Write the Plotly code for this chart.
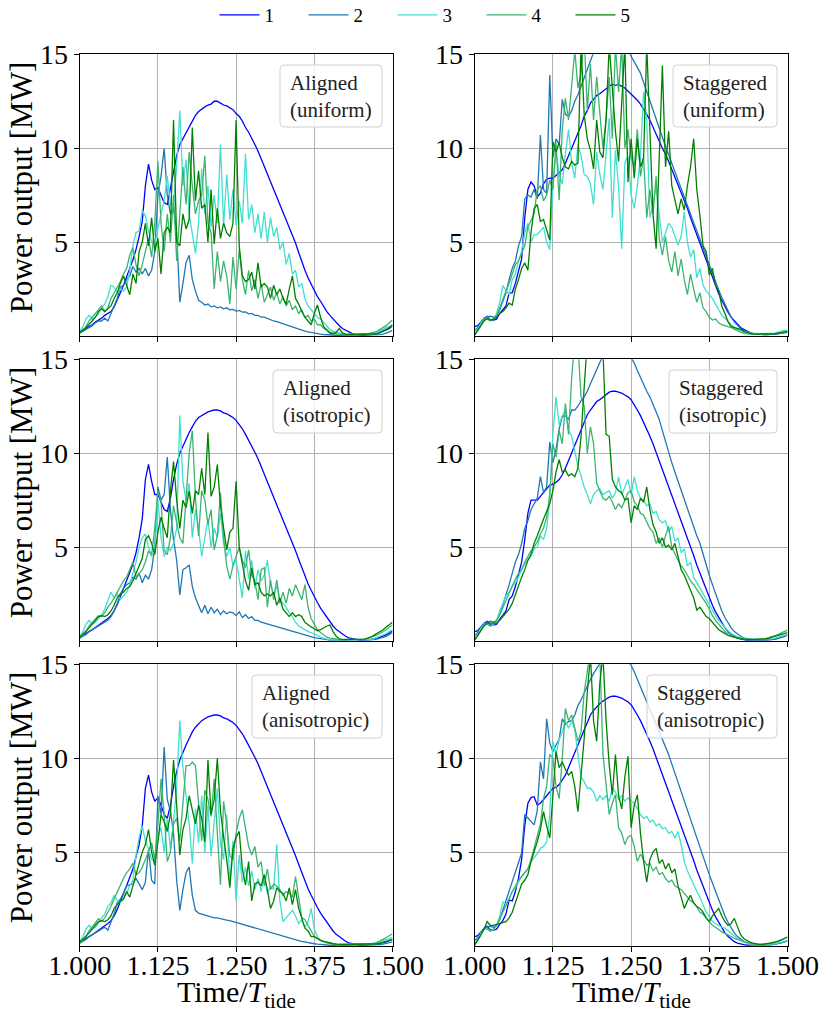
import numpy as np
import plotly.graph_objects as go
from plotly.subplots import make_subplots

# Sample times (units of tidal period), one every 0.005
t = np.round(1.0 + 0.005 * np.arange(101), 3)

# ---------------- Aligned (uniform) ----------------
al_uni_1 = [0.23,0.3,0.4,0.5,0.6,0.75,0.85,0.95,1.1,1.2,
            1.3,1.55,1.9,2.3,2.7,3.2,3.6,4.05,4.6,5.3,
            6.1,8.0,9.15,8.3,7.8,7.9,7.5,7.1,7.0,7.85,
            8.85,9.6,10.2,10.5,10.85,11.15,11.45,11.75,11.95,12.1,
            12.2,12.3,12.35,12.5,12.5,12.4,12.3,12.25,12.15,12.05,
            11.85,11.7,11.45,11.1,10.85,10.55,10.2,9.85,9.45,9.05,
            8.65,8.25,7.85,7.45,7.05,6.65,6.2,5.8,5.4,4.95,
            4.45,3.95,3.5,3.1,2.75,2.4,2.1,1.85,1.55,1.3,
            1.1,0.9,0.72,0.55,0.4,0.3,0.2,0.14,0.09,0.06,
            0.05,0.05,0.05,0.06,0.09,0.13,0.18,0.23,0.32,0.4,
            0.55]
al_uni_2 = [0.15,0.25,0.35,0.45,0.55,0.7,0.8,0.8,0.95,0.8,
            1.2,1.6,2.0,2.6,2.7,3.0,3.2,3.7,3.4,3.6,
            3.3,3.6,3.2,3.5,4.5,7.5,8.5,10.0,7.5,6.5,
            6.8,5.5,1.8,2.8,3.9,4.3,3.0,2.4,1.9,1.8,
            1.65,1.7,1.55,1.6,1.5,1.55,1.45,1.5,1.4,1.42,
            1.33,1.36,1.27,1.28,1.18,1.2,1.1,1.1,1.0,1.0,
            0.92,0.88,0.8,0.76,0.7,0.65,0.6,0.55,0.48,0.42,
            0.36,0.3,0.26,0.22,0.18,0.15,0.12,0.1,0.08,0.06,
            0.04,0.04,0.04,0.04,0.04,0.04,0.04,0.04,0.04,0.04,
            0.04,0.04,0.04,0.04,0.04,0.05,0.07,0.1,0.15,0.22,
            0.3]
al_uni_3 = [0.25,0.5,0.9,1.1,0.9,1.0,1.2,1.5,1.7,2.1,
            2.7,2.6,2.3,2.5,2.4,2.6,3.5,4.8,5.5,5.6,
            6.7,6.4,5.6,5.0,4.9,5.8,6.5,7.2,8.5,7.0,
            7.0,9.0,12.0,8.0,9.4,6.5,5.5,4.4,6.0,8.9,
            6.5,8.0,5.8,7.5,6.0,10.2,5.9,8.6,6.2,7.8,
            5.9,7.2,6.0,9.7,6.2,7.0,5.5,6.5,5.2,6.6,
            5.0,6.3,5.3,5.8,4.6,5.0,3.8,4.4,3.3,3.5,
            2.6,2.8,2.0,1.6,1.4,1.2,1.0,0.9,0.7,0.5,
            0.35,0.25,0.2,0.15,0.12,0.1,0.08,0.08,0.08,0.08,
            0.08,0.08,0.08,0.1,0.12,0.18,0.25,0.35,0.45,0.5,
            0.55]
al_uni_4 = [0.15,0.3,0.5,0.8,1.0,1.2,1.4,1.6,1.3,1.5,
            2.0,2.3,2.6,2.9,3.3,3.6,4.3,4.7,3.8,3.2,
            3.8,4.5,5.2,4.2,6.0,9.3,6.0,4.5,6.5,5.0,
            7.5,4.0,6.5,9.0,7.0,9.8,8.0,6.5,7.2,7.5,
            9.6,6.0,5.5,2.5,4.5,2.9,4.0,3.2,1.7,4.2,
            2.5,4.6,3.0,2.2,3.5,2.4,3.0,2.0,2.8,1.8,
            2.2,2.6,1.9,2.3,1.7,2.1,1.6,1.9,1.4,1.6,
            1.2,1.4,1.0,1.1,0.8,0.9,0.6,0.6,0.4,0.35,
            0.2,0.15,0.12,0.1,0.08,0.08,0.08,0.08,0.08,0.08,
            0.08,0.1,0.12,0.15,0.2,0.25,0.35,0.45,0.55,0.7,
            0.85]
al_uni_5 = [0.2,0.3,0.45,0.6,0.8,1.0,1.3,1.45,1.3,1.45,
            1.6,2.0,2.3,2.8,3.2,2.7,2.2,3.3,2.8,4.5,
            5.0,6.0,4.8,6.3,4.5,5.2,3.3,5.5,5.8,5.5,
            11.5,5.0,4.8,6.5,5.7,6.2,11.1,7.2,8.8,6.8,
            7.0,5.0,7.8,4.9,6.8,5.2,6.0,5.5,5.3,6.0,
            11.5,4.8,3.2,2.9,3.0,3.4,2.5,3.9,2.6,2.8,
            2.6,2.0,2.7,2.2,2.5,2.0,1.7,2.5,3.2,2.0,
            1.7,1.3,1.0,0.8,0.6,1.2,1.65,1.0,0.5,0.3,
            0.15,0.1,0.2,0.4,0.15,0.1,0.08,0.08,0.08,0.08,
            0.08,0.08,0.08,0.08,0.1,0.12,0.18,0.25,0.35,0.45,
            0.6]

# ---------------- Aligned (isotropic) ----------------
al_iso_1 = [0.22,0.3,0.4,0.5,0.6,0.72,0.82,0.92,1.05,1.2,
            1.35,1.6,1.95,2.35,2.75,3.2,3.65,4.1,4.7,5.5,
            6.5,8.6,9.4,8.5,7.8,7.8,7.4,7.0,6.9,7.6,
            8.6,9.4,10.0,10.4,10.75,11.1,11.4,11.7,11.9,12.0,
            12.1,12.2,12.25,12.3,12.3,12.25,12.15,12.1,12.0,11.9,
            11.75,11.55,11.3,11.0,10.7,10.4,10.05,9.7,9.3,8.9,
            8.5,8.1,7.7,7.3,6.9,6.5,6.1,5.65,5.25,4.8,
            4.35,3.9,3.45,3.05,2.7,2.35,2.05,1.75,1.5,1.25,
            1.0,0.8,0.62,0.48,0.35,0.25,0.17,0.12,0.08,0.06,
            0.05,0.05,0.06,0.08,0.11,0.15,0.2,0.26,0.34,0.42,
            0.55]
al_iso_2 = [0.15,0.25,0.35,0.5,0.6,0.7,0.8,0.9,1.0,1.1,
            1.3,1.6,2.0,2.5,2.8,3.0,3.1,3.4,3.3,3.6,
            3.1,3.5,3.3,3.8,5.0,8.2,7.5,7.8,9.8,7.0,
            5.4,4.3,2.45,3.8,3.9,4.05,2.9,2.3,1.9,1.5,
            1.9,1.45,1.8,1.5,1.7,1.4,1.6,1.45,1.55,1.5,
            1.35,1.55,1.25,1.4,1.2,1.3,1.1,1.1,1.0,0.95,
            0.9,0.85,0.8,0.75,0.7,0.65,0.6,0.55,0.5,0.45,
            0.4,0.35,0.3,0.26,0.22,0.18,0.15,0.12,0.1,0.08,
            0.05,0.05,0.05,0.05,0.05,0.05,0.05,0.05,0.05,0.05,
            0.05,0.05,0.05,0.05,0.07,0.1,0.15,0.2,0.25,0.35,
            0.45]
al_iso_3 = [0.25,0.5,0.9,1.1,0.9,1.0,1.2,1.4,1.7,2.2,
            2.6,2.3,2.5,2.2,2.4,2.6,3.0,3.6,4.2,5.0,
            5.5,5.7,5.0,4.5,4.8,7.5,5.5,4.5,5.0,4.8,
            5.2,6.0,12.0,8.5,7.5,8.4,5.5,7.0,6.0,4.5,
            5.5,6.5,5.0,6.0,5.5,6.8,5.2,4.5,5.0,4.0,
            4.3,3.2,2.3,4.8,3.3,4.3,2.8,3.8,3.2,3.5,
            4.3,3.0,2.5,2.9,2.2,2.0,1.8,1.5,1.3,1.0,
            0.8,0.7,0.6,0.5,0.45,0.35,0.3,0.2,0.15,0.1,
            0.06,0.06,0.06,0.06,0.06,0.06,0.06,0.06,0.06,0.06,
            0.06,0.06,0.06,0.08,0.12,0.18,0.25,0.3,0.4,0.5,
            0.6]
al_iso_4 = [0.15,0.3,0.5,0.8,1.0,1.2,1.35,1.3,1.5,1.8,
            2.0,2.3,2.6,2.9,3.2,3.4,3.8,4.2,3.4,3.6,
            3.8,4.2,4.8,4.6,6.0,8.0,7.4,4.8,4.6,5.5,
            7.2,6.3,5.5,5.2,7.8,10.0,11.2,7.6,5.6,8.0,
            7.5,6.2,7.0,4.85,5.6,7.9,5.5,4.0,3.3,4.0,
            4.5,5.0,4.3,3.9,4.85,3.5,3.2,2.2,3.8,3.9,
            1.8,3.25,2.2,3.25,2.0,2.6,2.0,2.8,2.4,3.0,
            2.6,2.2,3.0,1.8,1.2,0.9,0.6,0.45,0.3,0.2,
            0.15,0.12,0.08,0.08,0.08,0.08,0.08,0.08,0.08,0.08,
            0.08,0.1,0.13,0.18,0.25,0.32,0.4,0.5,0.6,0.75,
            0.85]
al_iso_5 = [0.2,0.35,0.5,0.7,0.9,1.1,1.3,1.35,1.3,1.4,
            1.6,1.9,2.3,2.5,2.6,2.8,2.9,3.2,3.6,4.1,
            4.4,5.4,5.6,5.2,4.6,5.8,6.6,6.0,5.5,8.0,
            9.55,7.5,6.0,7.5,7.1,8.0,6.8,8.0,7.8,9.2,
            7.8,11.1,7.7,8.2,9.4,7.2,5.9,4.85,5.8,6.0,
            8.5,5.0,4.1,3.2,2.7,3.9,3.0,3.1,2.6,2.4,
            2.5,2.4,2.6,1.9,2.3,1.7,1.5,1.3,1.5,1.3,
            1.4,1.3,1.0,0.85,0.75,0.65,0.55,0.6,0.7,0.8,
            0.85,0.5,0.25,0.12,0.07,0.07,0.07,0.07,0.07,0.07,
            0.07,0.1,0.15,0.2,0.3,0.4,0.5,0.6,0.75,0.9,
            1.0]

# ---------------- Aligned (anisotropic) ----------------
al_ani_1 = [0.22,0.3,0.4,0.5,0.6,0.72,0.82,0.92,1.05,1.2,
            1.35,1.6,1.95,2.35,2.75,3.2,3.65,4.1,4.7,5.4,
            6.4,8.4,9.1,8.2,7.7,7.9,7.5,7.0,6.8,7.5,
            8.5,9.3,9.9,10.35,10.7,11.05,11.4,11.65,11.85,12.0,
            12.1,12.2,12.25,12.3,12.3,12.25,12.15,12.1,12.0,11.9,
            11.75,11.55,11.3,11.0,10.7,10.4,10.05,9.7,9.3,8.9,
            8.5,8.1,7.7,7.3,6.9,6.5,6.1,5.65,5.25,4.8,
            4.35,3.9,3.45,3.05,2.7,2.35,2.05,1.75,1.5,1.25,
            1.0,0.8,0.62,0.48,0.35,0.25,0.17,0.12,0.08,0.06,
            0.05,0.05,0.05,0.06,0.08,0.1,0.13,0.17,0.22,0.28,
            0.35]
al_ani_2 = [0.15,0.25,0.35,0.5,0.6,0.7,0.8,0.9,1.0,0.85,
            1.3,1.7,2.3,2.5,2.8,3.2,3.25,3.3,3.6,3.3,
            3.0,3.4,5.15,3.5,3.3,8.0,7.0,10.6,7.8,7.2,
            6.0,3.5,1.9,3.0,3.9,4.2,2.7,1.9,1.75,1.7,
            1.65,1.6,1.55,1.5,1.5,1.45,1.42,1.38,1.35,1.3,
            1.25,1.2,1.15,1.1,1.05,1.0,0.95,0.9,0.85,0.8,
            0.78,0.73,0.68,0.63,0.58,0.53,0.48,0.43,0.38,0.33,
            0.29,0.25,0.21,0.18,0.15,0.12,0.1,0.08,0.06,0.05,
            0.04,0.04,0.04,0.04,0.04,0.04,0.04,0.04,0.04,0.04,
            0.04,0.04,0.04,0.04,0.05,0.06,0.08,0.1,0.13,0.17,
            0.22]
al_ani_3 = [0.25,0.5,0.9,1.1,0.9,1.0,1.2,1.5,1.7,2.1,
            2.3,2.7,2.4,2.3,2.5,2.8,3.2,3.5,4.8,5.8,
            6.4,5.6,5.2,4.6,4.5,5.8,6.3,5.0,6.8,5.2,
            6.6,8.5,12.0,9.5,8.0,6.5,4.4,7.3,5.5,8.0,
            5.0,7.5,4.8,6.5,8.4,5.5,4.6,7.0,3.3,5.6,
            2.4,4.85,3.4,4.2,3.2,4.0,3.0,3.6,2.9,3.8,
            2.8,3.2,3.0,5.4,2.4,1.3,1.5,1.7,1.9,1.6,
            1.2,1.4,1.0,1.3,2.0,0.9,0.5,0.3,0.2,0.15,
            0.12,0.1,0.08,0.08,0.08,0.08,0.08,0.08,0.08,0.08,
            0.08,0.08,0.1,0.12,0.15,0.2,0.25,0.3,0.35,0.4,
            0.45]
al_ani_4 = [0.15,0.3,0.5,0.8,1.0,1.2,1.45,1.3,1.5,1.8,
            2.1,2.5,2.9,3.3,3.6,3.9,4.1,4.4,3.8,3.9,
            4.2,4.6,5.0,5.5,4.6,6.5,8.9,7.0,4.5,5.0,
            6.5,6.8,5.6,7.5,9.6,9.6,9.8,9.6,7.5,5.6,
            8.3,7.8,6.9,8.9,6.0,3.25,7.7,6.5,4.8,4.6,
            6.0,6.8,7.25,6.3,5.3,4.85,5.3,4.2,4.5,3.2,
            4.1,3.0,3.3,3.2,3.0,2.7,2.9,2.8,2.6,3.7,
            2.5,1.5,1.4,1.1,0.8,0.5,0.4,0.3,0.25,0.2,
            0.15,0.12,0.1,0.08,0.08,0.08,0.08,0.08,0.08,0.08,
            0.08,0.08,0.08,0.1,0.12,0.18,0.25,0.35,0.45,0.55,
            0.65]
al_ani_5 = [0.2,0.35,0.5,0.7,0.9,1.1,1.3,1.35,1.3,1.4,
            1.6,2.0,2.2,2.4,2.5,2.9,2.6,3.2,3.8,4.5,
            5.0,5.4,6.2,5.0,4.3,5.5,7.0,6.6,6.1,7.0,
            9.9,7.5,4.85,6.2,6.8,8.0,7.2,6.5,7.5,6.8,
            5.55,9.9,7.0,7.8,10.0,7.2,5.8,4.6,3.1,5.2,
            5.8,6.1,4.1,3.25,4.5,2.4,3.3,3.4,3.2,3.8,
            3.0,2.0,2.4,3.1,2.9,2.8,2.4,3.1,2.2,3.0,
            2.0,1.5,0.95,0.8,0.5,0.5,0.4,0.3,0.25,0.2,
            0.15,0.12,0.1,0.08,0.08,0.08,0.08,0.08,0.08,0.08,
            0.08,0.08,0.08,0.08,0.1,0.12,0.15,0.2,0.25,0.3,
            0.35]

# ---------------- Staggered (uniform) ----------------
st_uni_1 = [0.5,0.55,0.75,0.95,1.05,0.85,0.85,0.9,1.2,1.4,
            1.6,2.3,2.3,2.8,3.4,4.1,6.3,7.8,8.2,8.0,
            7.4,7.6,8.1,8.35,8.4,8.4,8.55,8.7,8.85,9.2,
            9.6,9.95,10.35,10.8,11.2,11.7,12.0,12.4,12.6,12.8,
            12.9,13.05,13.2,13.3,13.4,13.35,13.4,13.3,13.2,13.05,
            12.9,12.75,12.55,12.35,12.1,11.8,11.5,11.1,10.75,10.35,
            10.0,9.7,9.3,8.9,8.5,8.1,7.7,7.25,6.8,6.3,
            5.85,5.4,4.9,4.45,4.0,3.5,3.1,2.7,2.25,1.9,
            1.55,1.25,1.0,0.8,0.6,0.45,0.35,0.25,0.18,0.13,
            0.1,0.08,0.08,0.08,0.08,0.08,0.1,0.12,0.15,0.18,
            0.2]
st_uni_2 = [0.3,0.45,0.7,0.9,1.0,1.05,1.0,1.1,1.4,1.8,
            2.3,3.0,3.6,4.0,4.8,5.3,7.3,7.5,7.4,7.8,
            7.3,10.7,7.8,7.6,13.9,9.5,10.5,10.2,12.6,11.8,
            11.7,12.0,12.5,12.85,13.3,13.8,14.3,14.7,15.1,15.4,
            15.7,15.9,16.1,16.2,16.2,16.1,15.9,15.7,15.5,15.2,
            14.9,14.6,14.3,14.0,13.5,13.0,12.5,12.05,11.6,11.1,
            10.6,10.1,9.65,9.2,8.7,8.3,7.85,7.4,7.0,6.55,
            6.1,5.65,5.2,4.7,4.2,3.75,3.3,2.85,2.45,2.05,
            1.7,1.35,1.0,0.75,0.55,0.4,0.3,0.22,0.15,0.12,
            0.1,0.08,0.08,0.08,0.08,0.1,0.12,0.15,0.18,0.2,
            0.22]
st_uni_3 = [0.15,0.35,0.7,0.9,1.0,0.85,0.9,1.2,1.8,2.7,
            2.4,2.2,3.0,3.3,4.0,4.5,5.5,6.0,5.0,5.4,
            5.4,5.6,5.8,5.0,4.6,8.0,9.8,8.6,8.1,9.7,
            11.0,9.2,8.4,10.2,9.6,8.6,8.5,8.1,7.0,9.8,
            8.6,7.8,9.5,11.6,6.3,9.9,7.9,4.65,9.2,9.6,
            7.5,6.8,8.0,9.6,13.0,11.5,6.3,7.0,8.0,6.6,
            5.0,5.5,6.0,5.8,5.3,4.85,5.3,6.6,5.0,4.2,
            4.6,3.1,3.6,2.7,2.4,2.2,2.0,1.7,1.4,1.1,
            0.95,0.75,0.6,0.45,0.35,0.3,0.25,0.2,0.17,0.15,
            0.12,0.12,0.12,0.12,0.12,0.12,0.15,0.2,0.25,0.3,
            0.3]
st_uni_4 = [0.1,0.3,0.6,0.95,0.9,0.8,0.9,1.1,1.5,2.0,
            2.4,2.8,3.3,3.8,4.0,4.4,4.8,5.8,6.2,6.5,
            7.8,8.0,7.2,7.5,8.3,7.8,10.3,7.25,11.0,12.65,
            11.5,13.5,15.2,13.2,14.0,16.0,12.0,14.5,11.5,13.8,
            12.0,10.0,11.6,13.8,10.5,15.5,13.0,15.5,10.0,11.0,
            9.5,9.0,11.0,8.5,9.5,6.3,7.8,6.5,8.5,5.2,
            4.3,5.3,4.0,3.4,4.5,3.2,4.1,3.0,2.2,3.3,
            2.5,1.8,2.3,1.5,1.3,1.0,0.85,0.9,0.7,0.6,
            0.55,0.5,0.45,0.35,0.3,0.2,0.15,0.12,0.1,0.1,
            0.1,0.1,0.1,0.1,0.1,0.1,0.1,0.12,0.15,0.2,
            0.25]
st_uni_5 = [0.05,0.3,0.6,0.8,0.95,0.85,0.9,1.0,1.2,1.3,
            1.5,1.75,1.65,2.5,3.0,3.6,3.9,3.5,5.5,6.8,
            7.0,6.1,6.2,5.6,5.1,10.35,9.8,10.3,9.5,9.0,
            8.9,9.3,9.1,9.2,15.5,11.8,10.5,9.9,8.9,11.5,
            9.8,9.5,11.5,15.5,13.2,10.9,9.3,12.0,15.5,8.2,
            10.5,8.4,10.5,9.0,9.5,15.5,10.8,6.5,4.65,9.5,
            14.4,9.0,10.9,8.0,7.3,6.5,7.3,6.7,8.0,9.0,
            10.5,7.8,6.4,4.8,4.5,3.25,3.6,2.7,2.4,1.6,
            1.2,0.75,0.5,0.45,0.4,0.35,0.25,0.2,0.15,0.1,
            0.1,0.1,0.1,0.1,0.1,0.1,0.12,0.15,0.18,0.2,
            0.25]

# ---------------- Staggered (isotropic) ----------------
st_iso_1 = [0.5,0.55,0.75,0.95,1.05,0.85,0.85,0.9,1.15,1.35,
            1.6,2.2,2.4,2.9,3.5,4.2,5.4,6.8,7.5,7.5,
            7.5,7.7,7.9,8.1,8.3,8.35,8.45,8.6,8.85,9.2,
            9.6,10.0,10.4,10.9,11.3,11.7,12.05,12.3,12.55,12.75,
            12.85,13.0,13.15,13.25,13.3,13.3,13.25,13.2,13.1,13.0,
            12.85,12.6,12.3,12.0,11.65,11.3,10.9,10.5,10.05,9.6,
            9.15,8.7,8.25,7.8,7.35,6.9,6.45,6.0,5.5,5.05,
            4.55,4.05,3.6,3.15,2.7,2.3,1.9,1.55,1.25,0.95,
            0.7,0.5,0.35,0.23,0.15,0.1,0.07,0.05,0.05,0.05,
            0.05,0.05,0.05,0.05,0.06,0.08,0.1,0.14,0.19,0.25,
            0.32]
st_iso_2 = [0.3,0.45,0.7,0.9,1.0,1.05,1.0,1.1,1.4,1.9,
            2.5,3.0,3.6,4.2,4.6,5.2,6.0,6.4,7.0,7.3,
            7.6,8.75,7.9,8.2,10.6,9.5,10.2,11.3,11.95,12.0,
            11.8,12.3,12.3,12.5,12.8,13.0,13.3,13.7,14.1,14.5,
            14.9,15.2,15.5,15.7,15.8,15.8,15.7,15.6,15.4,15.2,
            15.1,14.8,14.4,14.0,13.6,13.3,13.0,12.6,12.2,11.8,
            11.2,10.6,10.0,9.5,9.0,8.5,8.0,7.5,7.0,6.6,
            6.1,5.6,5.2,4.6,4.0,3.5,3.0,2.5,2.0,1.6,
            1.25,0.95,0.7,0.5,0.35,0.25,0.17,0.12,0.1,0.08,
            0.06,0.05,0.05,0.05,0.06,0.08,0.1,0.14,0.19,0.25,
            0.32]
st_iso_3 = [0.15,0.35,0.7,0.9,0.95,0.8,0.85,1.1,1.6,2.0,
            2.4,2.6,2.9,3.1,3.4,3.8,4.1,4.3,4.5,4.9,
            5.0,5.6,5.4,6.0,7.5,11.0,13.0,11.5,12.0,12.3,
            11.2,10.9,10.0,9.3,8.8,8.2,7.8,7.3,7.8,8.0,
            8.1,7.8,7.9,8.0,7.6,7.9,8.75,7.8,8.2,8.6,
            7.8,8.75,8.0,7.6,7.5,7.2,7.3,6.8,6.9,6.45,
            6.3,6.4,5.8,6.1,5.3,5.5,4.7,4.9,4.0,4.2,
            3.4,3.1,2.8,2.5,2.2,1.9,1.6,1.35,1.1,0.9,
            0.7,0.55,0.4,0.3,0.22,0.17,0.13,0.1,0.08,0.08,
            0.08,0.08,0.08,0.08,0.1,0.12,0.15,0.2,0.25,0.3,
            0.35]
st_iso_4 = [0.1,0.3,0.6,0.95,0.9,0.8,0.9,1.1,1.4,1.8,
            2.1,2.5,2.9,3.3,3.6,3.8,4.2,4.5,4.8,5.0,
            5.3,5.7,6.0,6.6,7.8,10.5,9.8,11.2,10.5,12.65,
            11.0,14.0,16.0,15.8,13.0,12.5,10.0,11.4,10.5,8.4,
            8.0,7.6,7.5,7.7,7.4,7.0,7.3,7.1,7.5,7.9,
            8.0,7.4,7.2,6.8,6.7,6.3,6.0,5.8,5.2,5.5,
            5.0,5.6,6.1,5.0,4.6,4.3,4.0,3.8,3.5,3.2,
            3.0,2.75,2.55,2.3,2.0,1.7,1.35,1.1,0.9,0.7,
            0.5,0.4,0.3,0.22,0.17,0.13,0.1,0.08,0.08,0.08,
            0.08,0.08,0.1,0.13,0.17,0.22,0.28,0.35,0.42,0.5,
            0.58]
st_iso_5 = [0.05,0.3,0.6,0.8,0.95,0.95,0.95,0.95,1.1,1.3,
            1.5,1.7,2.0,2.5,3.0,3.4,3.8,4.3,4.6,5.2,
            5.6,6.1,6.5,6.9,7.3,8.0,9.0,9.65,9.0,9.1,
            8.8,8.9,8.75,9.2,10.9,13.5,16.0,16.5,16.5,16.0,
            16.5,15.5,11.0,10.9,8.6,8.2,8.0,7.9,7.5,7.6,
            6.3,7.2,7.0,7.6,7.4,8.2,7.0,6.2,5.8,5.2,
            5.5,5.0,5.1,4.85,5.2,4.5,3.8,3.5,3.1,2.8,
            2.3,1.65,1.8,1.55,1.3,1.2,1.0,0.76,0.6,0.5,
            0.4,0.3,0.25,0.2,0.15,0.12,0.1,0.08,0.08,0.08,
            0.08,0.08,0.1,0.12,0.15,0.2,0.25,0.3,0.35,0.4,
            0.45]

# ---------------- Staggered (anisotropic) ----------------
st_ani_1 = [0.5,0.55,0.75,0.95,1.05,0.85,0.85,0.9,1.15,1.35,
            1.7,2.45,2.4,2.9,3.6,4.6,6.4,7.6,7.9,7.95,
            7.5,7.6,7.8,8.0,8.25,8.4,8.45,8.6,8.85,9.1,
            9.5,9.9,10.35,10.8,11.2,11.6,12.0,12.3,12.55,12.75,
            12.9,13.05,13.15,13.25,13.3,13.3,13.25,13.2,13.1,13.0,
            12.85,12.6,12.3,12.0,11.65,11.3,10.9,10.5,10.05,9.6,
            9.15,8.7,8.25,7.8,7.35,6.9,6.45,6.0,5.5,5.05,
            4.55,4.05,3.6,3.15,2.7,2.3,1.9,1.55,1.25,0.95,
            0.7,0.5,0.35,0.23,0.15,0.1,0.07,0.05,0.05,0.05,
            0.05,0.05,0.05,0.05,0.06,0.08,0.1,0.13,0.17,0.22,
            0.28]
st_ani_2 = [0.3,0.45,0.7,0.9,1.0,1.05,1.0,1.1,1.4,1.9,
            2.4,3.0,3.5,4.0,4.4,4.95,7.0,6.8,6.6,6.45,
            7.2,9.8,8.9,12.1,10.8,10.35,10.7,11.0,12.1,11.8,
            11.95,12.0,12.3,12.8,13.1,13.5,13.9,14.2,14.5,14.8,
            15.1,15.4,15.6,15.8,15.9,15.9,15.8,15.6,15.4,15.2,
            14.95,14.6,14.2,13.8,13.4,13.0,12.6,12.2,11.8,11.5,
            11.1,10.7,10.2,9.7,9.2,8.7,8.2,7.7,7.2,6.7,
            6.3,5.8,5.3,4.8,4.3,3.8,3.35,2.9,2.45,2.0,
            1.6,1.25,0.95,0.7,0.5,0.35,0.25,0.17,0.12,0.09,
            0.07,0.06,0.05,0.05,0.06,0.08,0.1,0.13,0.17,0.22,
            0.28]
st_ani_3 = [0.15,0.35,0.7,0.9,0.95,0.8,0.85,1.1,1.6,2.35,
            2.2,2.6,2.9,3.1,3.4,3.7,3.9,4.1,4.5,4.7,
            4.9,5.2,5.3,5.55,7.0,10.9,10.2,11.0,11.4,12.0,
            11.6,12.0,11.5,10.2,9.0,8.75,8.4,8.4,8.2,7.7,
            8.0,7.8,8.0,7.7,8.4,8.2,7.8,8.0,7.7,7.9,
            7.7,7.6,7.3,7.0,6.8,6.9,6.6,6.7,6.4,6.5,
            6.25,6.3,6.0,6.1,5.75,6.1,5.4,4.5,4.0,3.6,
            3.25,2.9,2.6,2.2,1.8,1.55,1.3,1.2,1.1,1.0,
            0.95,0.8,0.65,0.5,0.4,0.3,0.2,0.15,0.1,0.08,
            0.06,0.06,0.06,0.07,0.08,0.1,0.12,0.15,0.2,0.25,
            0.3]
st_ani_4 = [0.1,0.3,0.6,0.95,0.9,0.8,0.9,1.1,1.45,1.8,
            2.1,2.5,2.9,3.2,3.5,3.7,3.9,4.1,4.6,5.2,
            5.8,6.5,7.85,8.5,10.2,10.0,8.5,7.85,10.0,12.65,
            12.0,12.3,11.6,10.9,11.4,13.5,14.6,16.0,16.5,16.0,
            15.5,10.2,8.6,7.0,7.6,8.05,6.3,6.0,5.4,5.8,
            5.9,5.3,4.5,4.9,4.6,4.3,4.4,4.0,4.2,3.8,
            3.9,3.6,3.4,3.5,3.2,3.1,3.0,2.8,2.6,2.4,
            2.3,2.1,1.8,1.7,1.5,1.3,1.1,1.0,0.85,0.75,
            0.67,0.6,0.5,0.4,0.35,0.3,0.22,0.16,0.12,0.1,
            0.08,0.08,0.08,0.1,0.12,0.15,0.2,0.25,0.32,0.4,
            0.48]
st_ani_5 = [0.05,0.3,0.6,0.9,1.3,1.1,1.1,1.15,1.2,1.25,
            1.3,1.5,1.8,2.3,2.8,3.3,3.5,3.8,4.5,5.0,
            5.55,6.2,7.15,6.4,5.75,8.0,10.35,9.5,9.8,9.4,
            9.1,9.3,8.5,7.15,9.0,11.05,13.5,15.5,12.0,10.9,
            14.0,15.5,12.0,9.65,8.05,10.2,8.0,7.3,9.0,10.1,
            6.3,7.5,8.05,6.0,4.5,3.4,4.6,5.0,5.2,4.4,
            4.6,4.1,4.4,3.9,4.1,3.2,2.6,2.0,2.4,2.7,
            2.3,2.1,2.0,1.8,1.5,1.3,1.6,1.8,2.0,1.6,
            1.3,1.1,1.2,1.47,1.0,0.6,0.4,0.3,0.2,0.15,
            0.1,0.08,0.08,0.1,0.12,0.15,0.2,0.25,0.32,0.4,
            0.48]

series_names = ["1", "2", "3", "4", "5"]
colors = ["#0000ff", "#1f77b4", "#40e0d0", "#3cb371", "#008000"]

# (row, col, first label line, second label line, series)
panels = [
    (1, 1, "Aligned", "(uniform)", [al_uni_1, al_uni_2, al_uni_3, al_uni_4, al_uni_5]),
    (1, 2, "Staggered", "(uniform)", [st_uni_1, st_uni_2, st_uni_3, st_uni_4, st_uni_5]),
    (2, 1, "Aligned", "(isotropic)", [al_iso_1, al_iso_2, al_iso_3, al_iso_4, al_iso_5]),
    (2, 2, "Staggered", "(isotropic)", [st_iso_1, st_iso_2, st_iso_3, st_iso_4, st_iso_5]),
    (3, 1, "Aligned", "(anisotropic)", [al_ani_1, al_ani_2, al_ani_3, al_ani_4, al_ani_5]),
    (3, 2, "Staggered", "(anisotropic)", [st_ani_1, st_ani_2, st_ani_3, st_ani_4, st_ani_5]),
]
for p in panels:
    for s in p[4]:
        assert len(s) == len(t), (p[2], p[3], len(s))

W, H = 820, 1016
FONT = "Liberation Serif"
TICK_SIZE = 28
TITLE_SIZE = 30

fig = make_subplots(rows=3, cols=2)

for k, (r, c, l1, l2, series) in enumerate(panels):
    for j, vals in enumerate(series):
        fig.add_trace(
            go.Scatter(x=t, y=vals, mode="lines", name=series_names[j],
                       line=dict(color=colors[j], width=1.3),
                       showlegend=(k == 0), legendgroup=series_names[j]),
            row=r, col=c)

# panel frames in pixels: left, right (x) / top, bottom (y)
col_px = {1: (79.7, 392.5), 2: (474.7, 787.5)}
row_px = {1: (54.3, 336.0), 2: (359.3, 641.0), 3: (664.3, 946.0)}

for k, (r, c, l1, l2, series) in enumerate(panels):
    ax = k + 1
    xs = "xaxis" if ax == 1 else f"xaxis{ax}"
    ys = "yaxis" if ax == 1 else f"yaxis{ax}"
    x0, x1 = col_px[c]
    y0, y1 = row_px[r]
    fig.layout[xs].update(
        domain=[x0 / W, x1 / W], range=[1.0, 1.5], automargin=False,
        tickvals=[1.0, 1.125, 1.25, 1.375, 1.5],
        ticktext=["1.000", "1.125", "1.250", "1.375", "1.500"],
        showticklabels=(r == 3), ticklabelstandoff=-11,
        ticks="outside", ticklen=5, tickwidth=1, tickcolor="black",
        showline=True, linecolor="black", linewidth=1.2, mirror=True,
        showgrid=True, gridcolor="#b0b0b0", gridwidth=1, zeroline=False,
        tickfont=dict(family=FONT, size=TICK_SIZE, color="black"),
    )
    fig.layout[ys].update(
        domain=[1 - y1 / H, 1 - y0 / H], range=[0, 15], automargin=False,
        tickvals=[5, 10, 15],
        ticks="outside", ticklen=5, tickwidth=1, tickcolor="black",
        showline=True, linecolor="black", linewidth=1.2, mirror=True,
        showgrid=True, gridcolor="#b0b0b0", gridwidth=1, zeroline=False,
        tickfont=dict(family=FONT, size=TICK_SIZE, color="black"),
    )
    # axis titles
    if c == 1:
        fig.add_annotation(xref="paper", yref="paper", x=21 / W,
                           y=1 - ((y0 + y1) / 2 - 7) / H,
                           text="Power output [MW]", textangle=-90, showarrow=False,
                           xanchor="center", yanchor="middle",
                           font=dict(family=FONT, size=31, color="black"))
    if r == 3:
        fig.add_annotation(xref="paper", yref="paper", x=(x0 + x1) / 2 / W,
                           y=1 - 1015 / H,
                           text="Time/<i>T</i><sub>tide</sub>", showarrow=False,
                           xanchor="center", yanchor="bottom",
                           font=dict(family=FONT, size=TITLE_SIZE, color="black"))

# label boxes (pixel rectangles) in the upper right of each panel
boxes = [(280, 65, 382, 127), (673, 65, 777, 127),
         (273, 370, 382, 433), (669, 370, 777, 433),
         (252, 675, 382, 738), (647, 675, 777, 738)]


def rounded_rect(bx0, by0, bx1, by1, rad=4):
    def px(x):
        return x / W

    def py(y):
        return 1 - y / H
    rx, ry = rad / W, rad / H
    a, b, c_, d = px(bx0), px(bx1), py(by0), py(by1)
    return (f"M {a+rx},{c_} L {b-rx},{c_} Q {b},{c_} {b},{c_-ry} "
            f"L {b},{d+ry} Q {b},{d} {b-rx},{d} L {a+rx},{d} "
            f"Q {a},{d} {a},{d+ry} L {a},{c_-ry} Q {a},{c_} {a+rx},{c_} Z")


for (r, c, l1, l2, series), (bx0, by0, bx1, by1) in zip(panels, boxes):
    fig.add_shape(type="path", xref="paper", yref="paper",
                  path=rounded_rect(bx0, by0, bx1, by1),
                  line=dict(color="#d0d0d0", width=1),
                  fillcolor="rgba(255,255,255,0.8)", layer="above")
    fig.add_annotation(xref="paper", yref="paper",
                       x=(bx0 + 8) / W, y=1 - (by0 + by1) / 2 / H,
                       xanchor="left", yanchor="middle", align="left",
                       text=f"{l1}<br>{l2}", showarrow=False,
                       font=dict(family=FONT, size=21, color="#222222"))

fig.update_layout(
    template="none",
    width=W, height=H,
    margin=dict(l=0, r=0, t=0, b=0, autoexpand=False),
    paper_bgcolor="white", plot_bgcolor="white",
    font=dict(family=FONT, color="black"),
    legend=dict(orientation="h", x=437 / W, xanchor="center", y=1.004, yanchor="top",
                font=dict(family=FONT, size=19, color="black"),
                entrywidth=34, entrywidthmode="pixels", itemwidth=40,
                bgcolor="rgba(0,0,0,0)", borderwidth=0),
)

fig.write_html("out.html")
